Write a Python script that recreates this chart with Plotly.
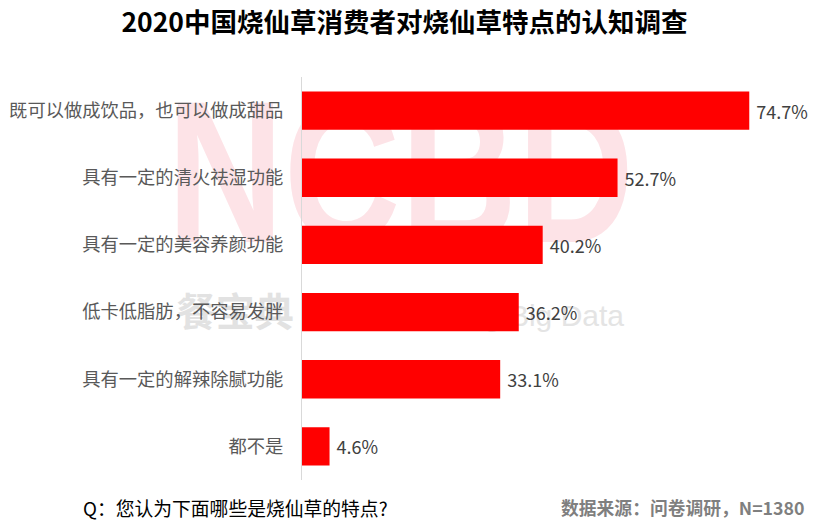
import plotly.graph_objects as go

# ---- data ----
categories = [
    "既可以做成饮品，也可以做成甜品",
    "具有一定的清火祛湿功能",
    "具有一定的美容养颜功能",
    "低卡低脂肪，不容易发胖",
    "具有一定的解辣除腻功能",
    "都不是",
]
values = [74.7, 52.7, 40.2, 36.2, 33.1, 4.6]
value_labels = [f" {v}%" for v in values]

title_text = "2020中国烧仙草消费者对烧仙草特点的认知调查"
question_text = "Q：您认为下面哪些是烧仙草的特点?"
source_text = "数据来源：问卷调研，N=1380"
wm_big = "NCBD"
wm_cn = "餐宝典\u00a0"
wm_en = "Catering Big Data"

# ---- layout constants ----
W, H = 817, 520
L, R, T, B = 302, 36, 77, 40
CJK = "Noto Sans CJK SC, Microsoft YaHei, sans-serif"

fig = go.Figure()

# watermark (base subplot, drawn below the bars); base axes use pixel coordinates
fig.add_trace(go.Scatter(
    x=[400.5], y=[191], mode="text", text=[wm_big], textposition="middle center",
    textfont=dict(family="Liberation Sans, Arial, sans-serif", size=202,
                  color="#fde3e7", weight="bold"),
    cliponaxis=False, hoverinfo="skip", showlegend=False, xaxis="x", yaxis="y"))
fig.add_trace(go.Scatter(
    x=[L + 0.5], y=[316], mode="text", text=[wm_cn], textposition="middle left",
    textfont=dict(family=CJK, size=39, color="#e2e2e2", weight="bold"),
    cliponaxis=False, hoverinfo="skip", showlegend=False, xaxis="x", yaxis="y"))
fig.add_trace(go.Scatter(
    x=[624], y=[318], mode="text", text=[wm_en], textposition="middle left",
    textfont=dict(family="Liberation Sans, Arial, sans-serif", size=30, color="#e4e4e4"),
    cliponaxis=False, hoverinfo="skip", showlegend=False, xaxis="x", yaxis="y"))

# bars on overlaying axes (drawn above watermark)
fig.add_trace(go.Bar(
    x=values, y=categories, orientation="h",
    marker=dict(color="#ff0000", line=dict(width=0)),
    width=0.57,
    text=value_labels, textposition="outside",
    textfont=dict(family=CJK, size=18, color="#404040"),
    cliponaxis=False, hoverinfo="skip", showlegend=False,
    xaxis="x2", yaxis="y2"))

fig.update_layout(
    width=W, height=H,
    margin=dict(l=L, r=R, t=T, b=B, pad=0, autoexpand=False),
    paper_bgcolor="white", plot_bgcolor="rgba(0,0,0,0)",
    showlegend=False,
    title=dict(text=title_text, x=0.495, xanchor="center", y=1 - 23 / H, yanchor="middle",
               font=dict(family=CJK, size=26.5, color="#000000", weight="bold")),
    xaxis=dict(range=[L, W - R], visible=False, fixedrange=True),
    yaxis=dict(range=[H - B, T], visible=False, fixedrange=True),
    xaxis2=dict(overlaying="x", range=[0, 80], visible=False, fixedrange=True),
    yaxis2=dict(overlaying="y", side="left", type="category", automargin=False,
                categoryorder="array", categoryarray=categories,
                autorange="reversed", showline=True, linecolor="#d9d9d9", linewidth=1,
                ticks="", showgrid=False, zeroline=False, ticklabelstandoff=14,
                tickfont=dict(family=CJK, size=18.3, color="#595959"), fixedrange=True),
)

pw = W - L - R
ph = H - T - B
fig.add_annotation(text=question_text, xref="paper", yref="paper",
                   x=(81 - L) / pw, y=(H - B - 507) / ph, xanchor="left", yanchor="middle",
                   showarrow=False, font=dict(family=CJK, size=18.8, color="#000000"))
fig.add_annotation(text=source_text, xref="paper", yref="paper",
                   x=(807 - L) / pw, y=(H - B - 507) / ph, xanchor="right", yanchor="middle",
                   showarrow=False, font=dict(family=CJK, size=17.8, color="#7f7f7f", weight="bold"))

post = """
document.body.style.margin = '0';
document.querySelectorAll('.textpoint text').forEach(function (el) {
  if (el.textContent === 'NCBD') {
    el.style.transformBox = 'fill-box';
    el.style.transformOrigin = 'center';
    el.style.transform = 'scaleX(0.8)';
  }
});
"""
fig.write_html("out.html", post_script=post, config={"displayModeBar": False})
